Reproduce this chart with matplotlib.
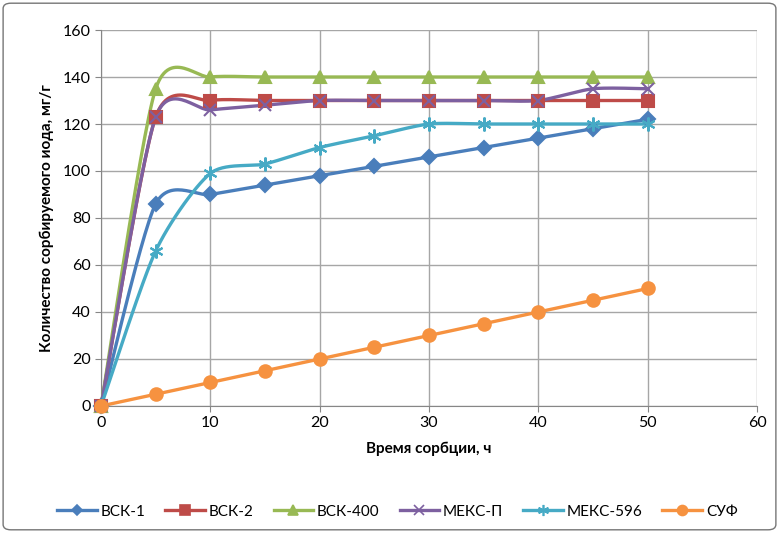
import numpy as np
import matplotlib
matplotlib.use('Agg')
import matplotlib.pyplot as plt
from matplotlib.patches import FancyBboxPatch

plt.rcParams['font.family'] = ['Lato', 'DejaVu Sans']

hours = [0, 5, 10, 15, 20, 25, 30, 35, 40, 45, 50]
names = ['ВСК-1', 'ВСК-2', 'ВСК-400', 'МЕКС-П', 'МЕКС-596', 'СУФ']
vsk1 = [0, 86, 90, 94, 98, 102, 106, 110, 114, 118, 122]
vsk2 = [0, 123, 130, 130, 130, 130, 130, 130, 130, 130, 130]
vsk400 = [0, 135, 140, 140, 140, 140, 140, 140, 140, 140, 140]
meks_p = [0, 123, 126, 128, 130, 130, 130, 130, 130, 135, 135]
meks596 = [0, 66, 99, 103, 110, 115, 120, 120, 120, 120, 120]
suf = [0, 5, 10, 15, 20, 25, 30, 35, 40, 45, 50]
series = [vsk1, vsk2, vsk400, meks_p, meks596, suf]

colors = ['#4A7EBB', '#BE4B48', '#98B954', '#7D60A0', '#46AAC5', '#F69240']
markers = ['D', 's', '^', 'x', (6, 2, 0), 'o']
msizes = [7, 9, 9, 9, 10, 9]


def smooth(xs, ys, sx, sy, k=8.0, n=30):
    # excel-like smoothing (bezier through the points), in screen-ish units
    p = np.column_stack([np.array(xs) * sx, np.array(ys) * sy]).astype(float)
    out = [p[0]]
    for i in range(len(p) - 1):
        p0 = p[i - 1] if i > 0 else p[i]
        p3 = p[i + 2] if i + 2 < len(p) else p[i + 1]
        p1, p2 = p[i], p[i + 1]
        c1 = p1 + (p2 - p0) / k
        c2 = p2 - (p3 - p1) / k
        t = np.linspace(0, 1, n)[1:, None]
        seg = ((1 - t) ** 3) * p1 + 3 * ((1 - t) ** 2) * t * c1 + 3 * (1 - t) * t ** 2 * c2 + t ** 3 * p2
        out.extend(seg)
    out = np.array(out)
    return out[:, 0] / sx, out[:, 1] / sy


fig = plt.figure(figsize=(7.79, 5.33), dpi=100)
fig.patches.append(FancyBboxPatch((0.004, 0.006), 0.992, 0.988, boxstyle='round,pad=0,rounding_size=0.01',
                                  transform=fig.transFigure, fill=False, edgecolor='#767676', linewidth=1))
ax = fig.add_axes([0.1297, 0.2383, 0.8421, 0.7054])

sx = 656 / 60.0
sy = 376 / 160.0
for ys, name, c, m, ms in zip(series, names, colors, markers, msizes):
    cx, cy = smooth(hours, ys, sx, sy)
    ax.plot(cx, cy, color=c, linewidth=2.4, zorder=3, clip_on=False)
    ax.plot(hours, ys, linestyle='none', marker=m, markersize=ms, color=c,
            markeredgecolor=c, markeredgewidth=1.5, zorder=4, clip_on=False)
    ax.plot([], [], color=c, linewidth=2.4, marker=m, markersize=ms * 0.8,
            markeredgecolor=c, markeredgewidth=1.2, label=name)

ax.set_xlim(0, 60)
ax.set_ylim(0, 160)
ax.set_xticks(range(0, 61, 10))
ax.set_yticks(range(0, 161, 20))
ax.grid(True, color='#A6A6A6', linewidth=1)
ax.set_axisbelow(True)
for s in ['top', 'right']:
    ax.spines[s].set_visible(False)
for s in ['left', 'bottom']:
    ax.spines[s].set_color('#868686')
ax.tick_params(labelsize=11.5, length=4, color='#868686', labelcolor='black')
ax.set_xlabel('Время сорбции, ч', fontsize=11, fontweight='bold', labelpad=8)
ax.set_ylabel('Количество сорбируемого иода, мг/г', fontsize=11, fontweight='bold', labelpad=6)

fig.legend(loc='center', bbox_to_anchor=(0.51, 0.04), ncol=6, frameon=False, fontsize=11,
           handlelength=2.6, columnspacing=1.3, handletextpad=0.25)

fig.savefig('out.png', dpi=100)
